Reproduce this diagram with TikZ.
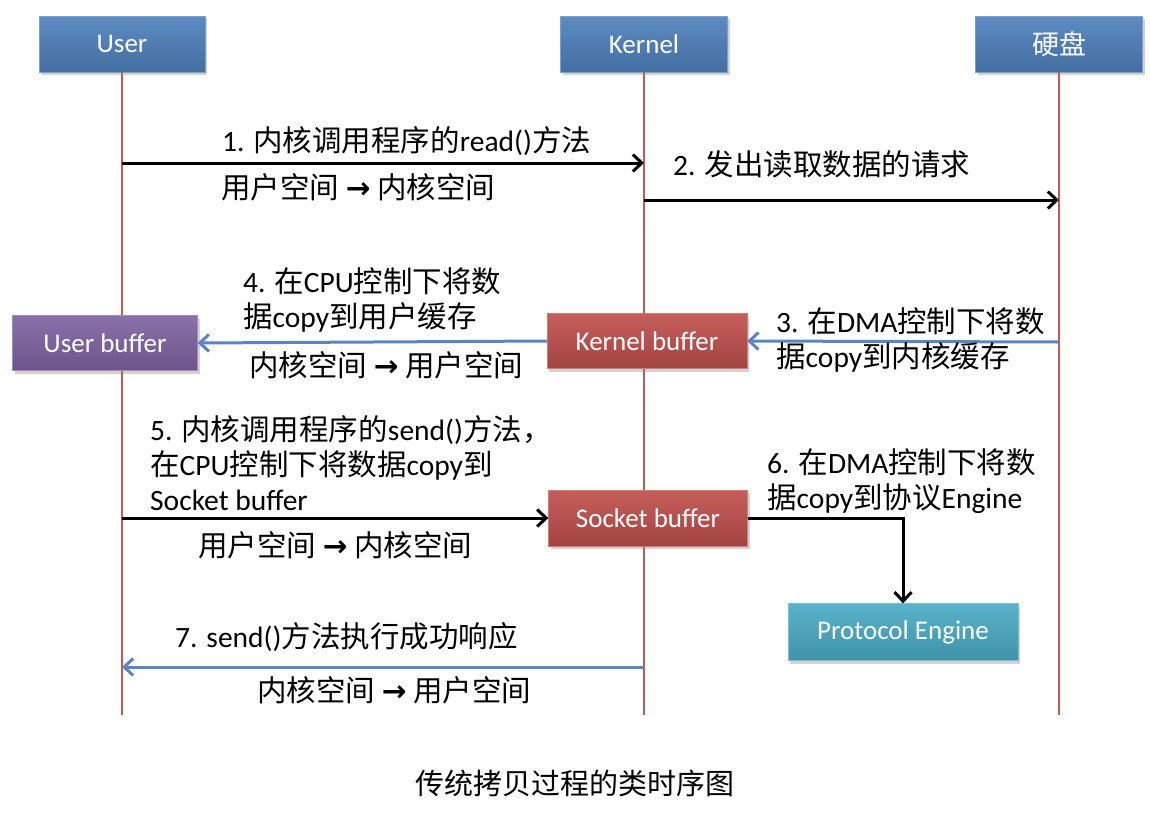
\documentclass[tikz,border=0pt]{standalone}
\usepackage{fontspec}
\setmainfont{Carlito}
\newfontfamily\cjk{Noto Sans CJK SC}
\newfontfamily\symfont{DejaVu Sans}
\usetikzlibrary{arrows.meta}
\usetikzlibrary{shadows}
\usetikzlibrary{positioning}
\definecolor{headblue}{HTML}{4F81BD}
\definecolor{bufpurple}{HTML}{8064A2}
\definecolor{bufred}{HTML}{C0504D}
\definecolor{engteal}{HTML}{4BACC6}
\definecolor{lifered}{HTML}{BF5B55}
\definecolor{flowblue}{HTML}{5A85C0}

\newcommand{\zh}[1]{{\cjk #1}}
\newcommand{\rarr}{{\symfont\bfseries\char"2192}}

\tikzset{
    box/.style={rectangle, top color=#1!92!white, bottom color=#1!85!black, draw=#1!75!white,
        text=white, drop shadow={opacity=0.35, shadow xshift=2pt, shadow yshift=-3pt},
        font=\fontsize{27}{30}\selectfont},
    lifeline/.style={draw=lifered, line width=2pt},
    callarrow/.style={line width=3pt, -{Straight Barb[length=9pt, width=17pt]}},
    backarrow/.style={draw=flowblue, line width=3pt, -{Straight Barb[length=9pt, width=17pt]}},
    note/.style={inner sep=0pt, anchor=west, align=left, font=\fontsize{29.5}{35}\selectfont},
}

\begin{document}
\begin{tikzpicture}[x=1pt, y=-1pt]
    \useasboundingbox[fill=white] (0,0) rectangle (1150,822);

    % lifelines
    \node[box=headblue, minimum width=166pt, minimum height=56pt] (user) at (122,44) {User};
    \node[box=headblue, minimum width=167pt, minimum height=56pt] (kernel) at (644,44) {Kernel};
    \node[box=headblue, minimum width=167pt, minimum height=56pt] (disk) at (1059,44) {\zh{硬盘}};
    \coordinate (userend) at (122,715);
    \coordinate (kernelend) at (644,715);
    \coordinate (diskend) at (1059,715);
    \draw[lifeline] (user.south) -- (userend);
    \draw[lifeline] (kernel.south) -- (kernelend);
    \draw[lifeline] (disk.south) -- (diskend);

    % buffers
    \node[box=bufpurple, minimum width=185pt, minimum height=55pt] (ubuf) at (105,343) {User buffer};
    \node[box=bufred, minimum width=200pt, minimum height=55pt] (kbuf) at (647,341) {Kernel buffer};
    \node[box=bufred, minimum width=199pt, minimum height=56pt] (sbuf) at (648,518) {Socket buffer};
    \node[box=engteal, minimum width=230pt, minimum height=57pt] (engine) at (903,632) {Protocol Engine};

    % 1. read()
    \coordinate (u1) at (122,163);
    \coordinate (k1) at (644,163);
    \draw[callarrow] (u1) -- (k1);
    \node[note] (read) at (222,141) {1. \zh{内核调用程序的}read()\zh{方法}};
    \node[note] (read2) at (221,187) {\zh{用户空间} \rarr{} \zh{内核空间}};

    % 2. request
    \coordinate (k2) at (644,200);
    \coordinate (d2) at (1059,200);
    \draw[callarrow] (k2) -- (d2);
    \node[note] (ask) at (673,164) {2. \zh{发出读取数据的请求}};

    % 3. DMA copy
    \coordinate (d3) at (1059,342);
    \draw[backarrow] (d3) -- (kbuf.east);
    \node[note] (dma) at (776,340) {3. \zh{在}DMA\zh{控制下将数}\\\zh{据}copy\zh{到内核缓存}};

    % 4. CPU copy
    \draw[backarrow] (kbuf.west) -- (ubuf.east);
    \node[note] (cpu) at (243,300) {4. \zh{在}CPU\zh{控制下将数}\\\zh{据}copy\zh{到用户缓存}};
    \node[note] (cpu2) at (249,365) {\zh{内核空间} \rarr{} \zh{用户空间}};

    % 5. send()
    \coordinate (u5) at (122,518);
    \draw[callarrow] (u5) -- (sbuf.west);
    \node[note] (send) at (150,463) {5. \zh{内核调用程序的}send()\zh{方法，}\\\zh{在}CPU\zh{控制下将数据}copy\zh{到}\\Socket buffer};
    \node[note] (send2) at (198,545) {\zh{用户空间} \rarr{} \zh{内核空间}};

    % 6. to protocol engine
    \draw[callarrow] (sbuf.east) -| (engine.north);
    \node[note] (dma2) at (767,481) {6. \zh{在}DMA\zh{控制下将数}\\\zh{据}copy\zh{到协议}Engine};

    % 7. reply
    \coordinate (k7) at (644,667);
    \coordinate (u7) at (122,667);
    \draw[backarrow] (k7) -- (u7);
    \node[note] (reply) at (175,637) {7. send()\zh{方法执行成功响应}};
    \node[note] (reply2) at (257,690) {\zh{内核空间} \rarr{} \zh{用户空间}};

    \node[font=\fontsize{29}{32}\selectfont] (caption) at (575,783) {\zh{传统拷贝过程的类时序图}};
\end{tikzpicture}
\end{document}
